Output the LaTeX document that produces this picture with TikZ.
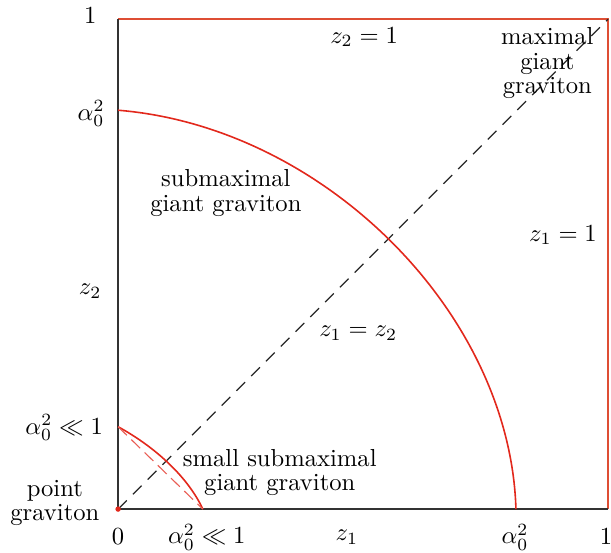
\documentclass[tikz,border=0pt]{standalone}
\usepackage{amsmath,amssymb}
\usetikzlibrary{positioning}

\definecolor{grvred}{RGB}{226,40,28}
\definecolor{edgered}{RGB}{222,78,52}

\begin{document}
\begin{tikzpicture}[
  x=7cm, y=7cm,
  lbl/.style={inner sep=1pt},
  txt/.style={align=center, inner sep=1pt, font={\linespread{0.82}\selectfont}},
  axis/.style={black!80, line width=0.5pt},
  wall/.style={edgered, line width=0.6pt},
  brane/.style={grvred, line width=0.65pt},
  diag/.style={black!85, line width=0.5pt, dash pattern=on 5pt off 3.5pt}
]
  \useasboundingbox (-0.241,-0.088) rectangle (1.006,1.039);

  % corners of the unit square
  \coordinate (O) at (0,0);
  \coordinate (X) at (1,0);
  \coordinate (Y) at (0,1);
  \coordinate (C) at (1,1);

  % walls z1 = 1, z2 = 1 and the two axes
  \draw[wall] (Y) -- (C) -- (X);
  \draw[axis] (Y) -- (O) -- (X);
  \draw[diag] (O) -- (C);

  % submaximal giant graviton
  \coordinate (ga) at (0,0.814);
  \coordinate (gb) at (0.812,0);
  \draw[brane] (ga) .. controls (0.42,0.78) and (0.80,0.40) .. (gb);

  % small submaximal giant graviton
  \coordinate (sa) at (0,0.168);
  \coordinate (sb) at (0.173,0);
  \draw[brane] (sa) .. controls (0.07,0.13) and (0.14,0.07) .. (sb);
  \draw[grvred!75, line width=0.45pt, dash pattern=on 5pt off 2.5pt] (sa) -- (sb);

  % point graviton
  \fill[grvred] (O) circle (1.1pt);

  % axis labels
  \node[lbl] (y1)   at (-0.057,1.008) {$1$};
  \node[lbl] (ya)   at (-0.055,0.808) {$\alpha_0^2$};
  \node[lbl] (yz)   at (-0.057,0.445) {$z_2$};
  \node[lbl] (ys)   at (-0.110,0.167) {$\alpha_0^2 \ll 1$};
  \node[lbl] (x0)   at (0,-0.057)     {$0$};
  \node[lbl] (xs)   at (0.181,-0.057) {$\alpha_0^2 \ll 1$};
  \node[lbl] (xz)   at (0.467,-0.057) {$z_1$};
  \node[lbl] (xa)   at (0.810,-0.057) {$\alpha_0^2$};
  \node[lbl] (x1)   at (0.996,-0.057) {$1$};

  % region labels
  \node[lbl] (top)  at (0.502,0.963) {$z_2 = 1$};
  \node[lbl] (rgt)  at (0.908,0.559) {$z_1 = 1$};
  \node[lbl] (eq)   at (0.490,0.359) {$z_1 = z_2$};
  \node[txt] (maxg) at (0.876,0.910) {maximal\\giant\\graviton};
  \node[txt] (subg) at (0.220,0.645) {submaximal\\giant graviton};
  \node[txt] (smlg) at (0.330,0.075) {small submaximal\\giant graviton};
  \node[txt] (pnt)  at (-0.129,0.012) {point\\graviton};
\end{tikzpicture}
\end{document}
